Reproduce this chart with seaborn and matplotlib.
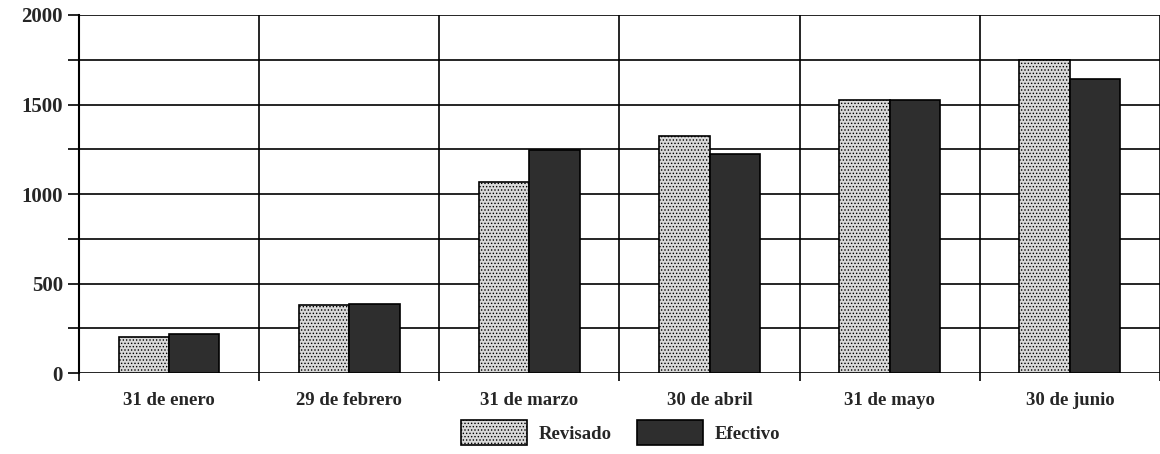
import pandas as pd
import seaborn as sns
import matplotlib.pyplot as plt
import numpy as np
from matplotlib.patches import Patch

fechas = ['31 de enero', '29 de febrero', '31 de marzo', '30 de abril', '31 de mayo', '30 de junio']
revisado = [200, 380, 1070, 1325, 1525, 1750]
efectivo = [220, 385, 1245, 1225, 1525, 1645]
series = ['Revisado', 'Efectivo']

df = pd.DataFrame({
    'fecha': fechas * 2,
    'serie': ['Revisado'] * len(fechas) + ['Efectivo'] * len(fechas),
    'valor': revisado + efectivo,
})

sns.set_style('white')
plt.rcParams['font.family'] = ['Liberation Serif', 'DejaVu Serif']
plt.rcParams['hatch.linewidth'] = 0.6

fig = plt.figure(figsize=(11.6, 4.54), dpi=100)
ax = fig.add_axes([0.068, 0.178, 0.932, 0.789])

colores = {'Revisado': '#d9d9d9', 'Efectivo': '#2e2e2e'}
sns.barplot(data=df, x='fecha', y='valor', hue='serie', palette=colores,
            width=0.56, gap=0, ax=ax, legend=False, saturation=1,
            edgecolor='black', linewidth=1.2)

# stipple texture on the light series
n = len(fechas)
for i, bar in enumerate(ax.patches):
    if i < n:
        bar.set_hatch('.....')

ax.set_xlim(-0.5, n - 0.5)
ax.set_ylim(0, 2000)
ax.set_yticks([0, 500, 1000, 1500, 2000])
ax.set_yticks(np.arange(0, 2001, 250), minor=True)
ax.set_xticks(np.arange(-0.5, n, 1.0), minor=True)
ax.grid(True, axis='y', which='both', color='black', linewidth=1.2)
ax.grid(True, axis='x', which='minor', color='black', linewidth=1.2)
ax.grid(False, axis='x', which='major')
ax.set_axisbelow(True)

for s in ['top', 'right', 'bottom']:
    ax.spines[s].set_visible(False)
ax.spines['left'].set_color('black')
ax.spines['left'].set_linewidth(1.5)

ax.tick_params(axis='y', which='both', left=True, length=8, width=1.2, color='black')
ax.tick_params(axis='x', which='minor', bottom=True, length=6, width=1.2, color='black')
ax.tick_params(axis='x', which='major', bottom=False, pad=10)
for lab in ax.get_yticklabels():
    lab.set_fontweight('bold')
    lab.set_fontsize(15)
for lab in ax.get_xticklabels():
    lab.set_fontweight('bold')
    lab.set_fontsize(13.5)
ax.set_xlabel('')
ax.set_ylabel('')

handles = [Patch(facecolor=colores['Revisado'], edgecolor='black', hatch='.....', linewidth=1.2),
           Patch(facecolor=colores['Efectivo'], edgecolor='black', linewidth=1.2)]
fig.legend(handles, series, loc='lower center', bbox_to_anchor=(0.535, -0.018),
           ncol=2, frameon=False, handlelength=3.5, handleheight=1.7,
           columnspacing=1.4, handletextpad=0.6,
           prop={'weight': 'bold', 'size': 13.5})

fig.savefig('out.png', dpi=100)
